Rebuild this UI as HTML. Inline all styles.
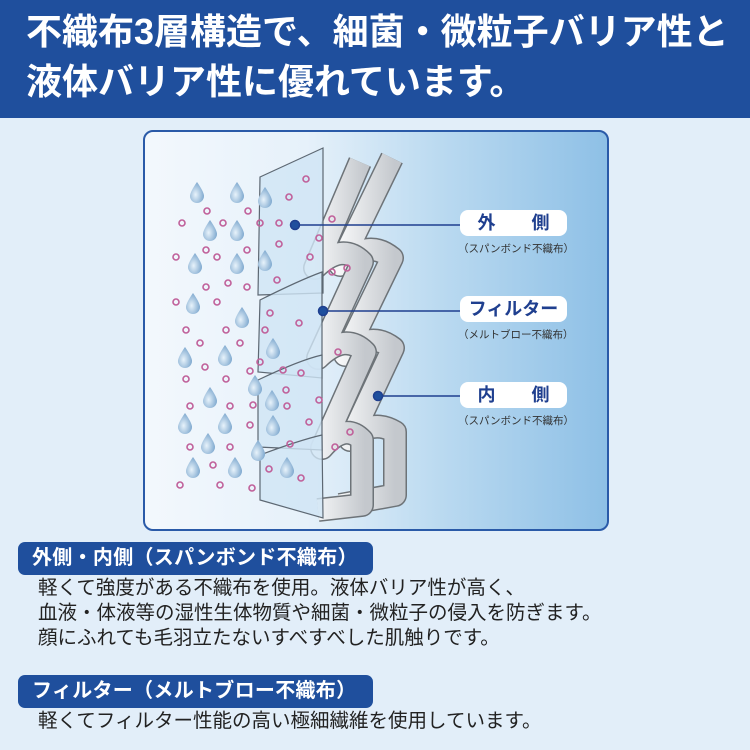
<!DOCTYPE html>
<html><head><meta charset="utf-8"><style>
body{margin:0;width:750px;height:750px;background:#e2eef9;position:relative;overflow:hidden;font-family:"Liberation Sans","Noto Sans CJK JP",sans-serif}
.hd{position:absolute;left:0;top:0;width:750px;height:118px;background:#1f4f9d;color:#fff;font-weight:bold;font-size:36px;line-height:45px}
.hd div{position:absolute;left:26px;white-space:nowrap;letter-spacing:0px}
.panel{position:absolute;left:143px;top:130px;width:462px;height:397px;border:2px solid #2a5aa8;border-radius:10px;background:linear-gradient(90deg,#f3f8fd 0%,#e6f1fa 35%,#b9d9f0 65%,#8ec0e6 100%)}
.tag{position:absolute;left:18px;width:355px;height:33px;background:#1f4f9d;border-radius:7px;color:#fff;font-weight:bold;font-size:20px;line-height:33px;padding-left:14px;box-sizing:border-box;white-space:nowrap;letter-spacing:0.3px}
.tx{position:absolute;left:38px;font-size:19.5px;color:#222;line-height:25px;white-space:nowrap}
.pill{position:absolute;left:460px;width:107px;height:26px;background:#fff;border-radius:8px;color:#1f3f8f;font-weight:bold;font-size:18px;line-height:26px;text-align:center;white-space:nowrap}
.sub{position:absolute;left:458px;font-size:10.5px;color:#333;white-space:nowrap}
</style></head><body>
<div class="hd"><div style="top:9px">不織布3層構造で、細菌・微粒子バリア性と</div><div style="top:59px">液体バリア性に優れています。</div></div>
<div class="panel"></div>
<svg width="750" height="750" style="position:absolute;left:0;top:0">
<defs>
<linearGradient id="g" x1="0" x2="1"><stop offset="0" stop-color="#f6f7f8"/><stop offset="1" stop-color="#c4c8cd"/></linearGradient>
<radialGradient id="d" cx="0.4" cy="0.6" r="0.6"><stop offset="0" stop-color="#e8f3fb"/><stop offset="1" stop-color="#7fa9cf"/></radialGradient>
</defs>
<path d="M392,158 L340,265 Q368,238 392,258 L345,355 Q370,330 393,348 L350,440 Q372,418 395,432 L395,495 L340,505" fill="none" stroke="#6d7378" stroke-width="24" stroke-linejoin="round"/>
<path d="M392,158 L340,265 Q368,238 392,258 L345,355 Q370,330 393,348 L350,440 Q372,418 395,432 L395,495 L340,505" fill="none" stroke="url(#g)" stroke-width="21" stroke-linejoin="round"/>
<path d="M360,162 L315,268 Q342,242 362,262 L318,358 Q345,332 365,352 L322,448 Q345,422 362,440 L362,505 L318,510" fill="none" stroke="#6d7378" stroke-width="24" stroke-linejoin="round"/>
<path d="M360,162 L315,268 Q342,242 362,262 L318,358 Q345,332 365,352 L322,448 Q345,422 362,440 L362,505 L318,510" fill="none" stroke="url(#g)" stroke-width="21" stroke-linejoin="round"/>
<g fill="#cfe5f5" fill-opacity="0.8" stroke="#5d6873" stroke-width="1.2">
<path d="M260,177 L323,148 L323,293 L258,295 Z"/>
<path d="M260,300 Q300,280 322,272 L322,378 L258,372 Z"/>
<path d="M258,380 Q300,360 322,355 L322,450 L258,447 Z"/>
<path d="M260,455 Q300,440 322,435 L323,518 L260,500 Z"/>
</g>
<g fill="url(#d)">
<path d="M197,182 q-7,10 -7,14 a7,7 0 0 0 14,0 q0,-4 -7,-14z"/><path d="M237,182 q-7,10 -7,14 a7,7 0 0 0 14,0 q0,-4 -7,-14z"/><path d="M265,187 q-7,10 -7,14 a7,7 0 0 0 14,0 q0,-4 -7,-14z"/>
<path d="M210,220 q-7,10 -7,14 a7,7 0 0 0 14,0 q0,-4 -7,-14z"/><path d="M237,220 q-7,10 -7,14 a7,7 0 0 0 14,0 q0,-4 -7,-14z"/>
<path d="M195,253 q-7,10 -7,14 a7,7 0 0 0 14,0 q0,-4 -7,-14z"/><path d="M237,253 q-7,10 -7,14 a7,7 0 0 0 14,0 q0,-4 -7,-14z"/><path d="M265,250 q-7,10 -7,14 a7,7 0 0 0 14,0 q0,-4 -7,-14z"/>
<path d="M193,293 q-7,10 -7,14 a7,7 0 0 0 14,0 q0,-4 -7,-14z"/><path d="M242,307 q-7,10 -7,14 a7,7 0 0 0 14,0 q0,-4 -7,-14z"/><path d="M273,338 q-7,10 -7,14 a7,7 0 0 0 14,0 q0,-4 -7,-14z"/>
<path d="M185,347 q-7,10 -7,14 a7,7 0 0 0 14,0 q0,-4 -7,-14z"/><path d="M225,345 q-7,10 -7,14 a7,7 0 0 0 14,0 q0,-4 -7,-14z"/><path d="M255,375 q-7,10 -7,14 a7,7 0 0 0 14,0 q0,-4 -7,-14z"/>
<path d="M210,387 q-7,10 -7,14 a7,7 0 0 0 14,0 q0,-4 -7,-14z"/><path d="M272,390 q-7,10 -7,14 a7,7 0 0 0 14,0 q0,-4 -7,-14z"/><path d="M185,413 q-7,10 -7,14 a7,7 0 0 0 14,0 q0,-4 -7,-14z"/>
<path d="M225,413 q-7,10 -7,14 a7,7 0 0 0 14,0 q0,-4 -7,-14z"/><path d="M273,415 q-7,10 -7,14 a7,7 0 0 0 14,0 q0,-4 -7,-14z"/><path d="M208,433 q-7,10 -7,14 a7,7 0 0 0 14,0 q0,-4 -7,-14z"/>
<path d="M258,440 q-7,10 -7,14 a7,7 0 0 0 14,0 q0,-4 -7,-14z"/><path d="M193,457 q-7,10 -7,14 a7,7 0 0 0 14,0 q0,-4 -7,-14z"/><path d="M235,457 q-7,10 -7,14 a7,7 0 0 0 14,0 q0,-4 -7,-14z"/><path d="M287,457 q-7,10 -7,14 a7,7 0 0 0 14,0 q0,-4 -7,-14z"/>
</g>
<g fill="none" stroke="#c0609a" stroke-width="1.6">
<circle cx="306" cy="179" r="3"/><circle cx="289" cy="197" r="3"/><circle cx="207" cy="211" r="3"/><circle cx="248" cy="211" r="3"/><circle cx="182" cy="223" r="3"/><circle cx="223" cy="223" r="3"/><circle cx="260" cy="223" r="3"/><circle cx="279" cy="223" r="3"/><circle cx="332" cy="219" r="3"/><circle cx="279" cy="244" r="3"/><circle cx="319" cy="238" r="3"/><circle cx="206" cy="250" r="3"/><circle cx="247" cy="250" r="3"/><circle cx="176" cy="257" r="3"/><circle cx="217" cy="257" r="3"/><circle cx="310" cy="257" r="3"/><circle cx="332" cy="272" r="3"/><circle cx="347" cy="268" r="3"/><circle cx="206" cy="287" r="3"/><circle cx="228" cy="283" r="3"/><circle cx="247" cy="287" r="3"/><circle cx="277" cy="280" r="3"/><circle cx="176" cy="302" r="3"/><circle cx="217" cy="302" r="3"/><circle cx="270" cy="313" r="3"/><circle cx="299" cy="323" r="3"/><circle cx="186" cy="330" r="3"/><circle cx="226" cy="330" r="3"/><circle cx="265" cy="330" r="3"/><circle cx="200" cy="343" r="3"/><circle cx="240" cy="343" r="3"/><circle cx="338" cy="352" r="3"/><circle cx="205" cy="367" r="3"/><circle cx="260" cy="362" r="3"/><circle cx="283" cy="370" r="3"/><circle cx="301" cy="373" r="3"/><circle cx="186" cy="379" r="3"/><circle cx="226" cy="379" r="3"/><circle cx="250" cy="371" r="3"/><circle cx="286" cy="390" r="3"/><circle cx="319" cy="400" r="3"/><circle cx="190" cy="406" r="3"/><circle cx="230" cy="406" r="3"/><circle cx="253" cy="405" r="3"/><circle cx="287" cy="406" r="3"/><circle cx="250" cy="425" r="3"/><circle cx="309" cy="422" r="3"/><circle cx="350" cy="432" r="3"/><circle cx="190" cy="447" r="3"/><circle cx="230" cy="447" r="3"/><circle cx="290" cy="444" r="3"/><circle cx="335" cy="447" r="3"/><circle cx="213" cy="465" r="3"/><circle cx="269" cy="469" r="3"/><circle cx="301" cy="478" r="3"/><circle cx="180" cy="485" r="3"/><circle cx="220" cy="485" r="3"/><circle cx="252" cy="488" r="3"/>
</g>
<g stroke="#1f3f8f" stroke-width="1.5" fill="#1f4f9d">
<line x1="295" y1="225" x2="462" y2="225"/><circle cx="295" cy="225" r="4.5"/>
<line x1="323" y1="311" x2="462" y2="311"/><circle cx="323" cy="311" r="4.5"/>
<line x1="378" y1="396" x2="462" y2="396"/><circle cx="378" cy="396" r="4.5"/>
</g>
</svg>
<div class="pill" style="top:210px">外　　側</div><div class="sub" style="top:241px">（スパンボンド不織布）</div>
<div class="pill" style="top:296px">フィルター</div><div class="sub" style="top:327px">（メルトブロー不織布）</div>
<div class="pill" style="top:382px">内　　側</div><div class="sub" style="top:413px">（スパンボンド不織布）</div>
<div class="tag" style="top:542px">外側・内側（スパンボンド不織布）</div>
<div class="tx" style="top:576px">軽くて強度がある不織布を使用。液体バリア性が高く、<br>血液・体液等の湿性生体物質や細菌・微粒子の侵入を防ぎます。<br>顔にふれても毛羽立たないすべすべした肌触りです。</div>
<div class="tag" style="top:675px">フィルター（メルトブロー不織布）</div>
<div class="tx" style="top:709px">軽くてフィルター性能の高い極細繊維を使用しています。</div>
</body></html>
